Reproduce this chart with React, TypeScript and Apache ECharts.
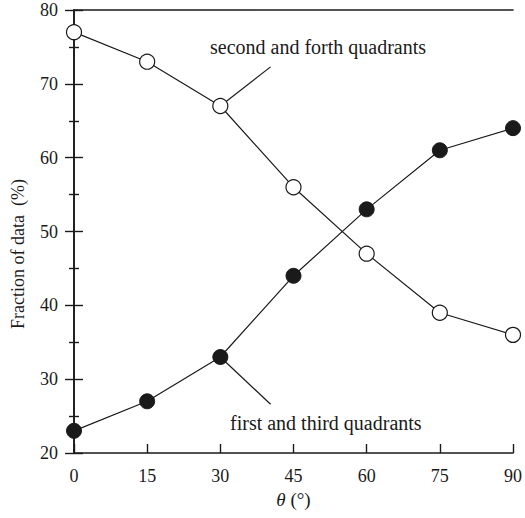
import React, { useEffect, useRef } from "react";
import * as echarts from "echarts";

// Angle of rotation (degrees)
const thetaValues = [0, 15, 30, 45, 60, 75, 90];
// Fraction of data in the second and forth quadrants (%)
const secondForth = [77, 73, 67, 56, 47, 39, 36];
// Fraction of data in the first and third quadrants (%)
const firstThird = [23, 27, 33, 44, 53, 61, 64];

// Leader lines from the 30° points to their captions, in data units
const upperLeader = [
  [30, 67],
  [40.3, 72.3],
];
const lowerLeader = [
  [30, 33],
  [40.3, 26.6],
];

const upperCaption = "second and forth quadrants";
const lowerCaption = "first and third quadrants";
const yTitle = "Fraction of data\u00a0\u00a0(%)";

const FONT = "Liberation Serif";
const INK = "#1a1a1a";

export default function App() {
  const ref = useRef<HTMLDivElement>(null);

  useEffect(() => {
    if (!ref.current) return;
    document.body.style.margin = "0";
    const chart = echarts.init(ref.current, undefined, { renderer: "svg" });

    const axisLine = { show: true, lineStyle: { color: INK, width: 1.6 } };
    const tickStyle = { color: INK, width: 1.4 };
    const textBase = { color: INK, fontSize: 18, fontFamily: FONT };

    chart.setOption({
      animation: false,
      backgroundColor: "#fff",
      textStyle: { fontFamily: FONT },
      grid: { left: 74, right: 7, top: 10, bottom: 65, containLabel: false },
      xAxis: [
        {
          type: "value",
          min: 0,
          max: 90,
          interval: 15,
          axisLine,
          axisTick: { show: true, inside: true, length: 9, lineStyle: tickStyle },
          splitLine: { show: false },
          axisLabel: { ...textBase, margin: 14 },
          name: "{t|θ} (°)",
          nameLocation: "middle",
          nameGap: 31,
          nameTextStyle: {
            ...textBase,
            fontSize: 19,
            rich: {
              t: { ...textBase, fontSize: 19, fontStyle: "italic" },
            },
          },
        },
        {
          type: "value",
          position: "top",
          min: 0,
          max: 90,
          interval: 15,
          axisLine,
          axisTick: { show: false },
          axisLabel: { show: false },
          splitLine: { show: false },
        },
      ],
      yAxis: [
        {
          type: "value",
          min: 20,
          max: 80,
          interval: 10,
          axisLine,
          axisTick: { show: true, inside: true, length: 9, lineStyle: tickStyle },
          minorTick: { show: true, splitNumber: 2, length: 5, lineStyle: tickStyle },
          splitLine: { show: false },
          minorSplitLine: { show: false },
          axisLabel: { ...textBase, margin: 16 },
        },
        {
          type: "value",
          position: "right",
          min: 20,
          max: 80,
          interval: 10,
          axisLine,
          axisTick: { show: true, inside: true, length: 9, lineStyle: tickStyle },
          minorTick: { show: true, splitNumber: 2, length: 5, lineStyle: tickStyle },
          splitLine: { show: false },
          minorSplitLine: { show: false },
          axisLabel: { show: false },
        },
      ],
      graphic: [
        {
          type: "text",
          x: 18,
          y: 254,
          rotation: Math.PI / 2,
          style: {
            text: yTitle,
            fill: INK,
            fontSize: 18,
            fontFamily: FONT,
            align: "center",
            verticalAlign: "middle",
          },
        },
        {
          type: "text",
          x: 210,
          y: 47,
          style: {
            text: upperCaption,
            fill: INK,
            fontSize: 20,
            fontFamily: FONT,
            align: "left",
            verticalAlign: "middle",
          },
        },
        {
          type: "text",
          x: 230,
          y: 423,
          style: {
            text: lowerCaption,
            fill: INK,
            fontSize: 20,
            fontFamily: FONT,
            align: "left",
            verticalAlign: "middle",
          },
        },
      ],
      series: [
        {
          type: "line",
          data: upperLeader,
          symbol: "none",
          silent: true,
          lineStyle: { color: INK, width: 1.2 },
          z: 1,
        },
        {
          type: "line",
          data: lowerLeader,
          symbol: "none",
          silent: true,
          lineStyle: { color: INK, width: 1.2 },
          z: 1,
        },
        {
          type: "line",
          name: "second and forth quadrants",
          data: thetaValues.map((t, i) => [t, secondForth[i]]),
          symbol: "circle",
          symbolSize: 15,
          lineStyle: { color: INK, width: 1.2 },
          itemStyle: { color: "#fff", borderColor: INK, borderWidth: 1.2 },
          z: 3,
        },
        {
          type: "line",
          name: "first and third quadrants",
          data: thetaValues.map((t, i) => [t, firstThird[i]]),
          symbol: "circle",
          symbolSize: 15,
          lineStyle: { color: INK, width: 1.2 },
          itemStyle: { color: INK, borderColor: INK, borderWidth: 1 },
          z: 3,
        },
      ],
    });

    return () => chart.dispose();
  }, []);

  return <div ref={ref} style={{ width: 525, height: 518 }} />;
}
